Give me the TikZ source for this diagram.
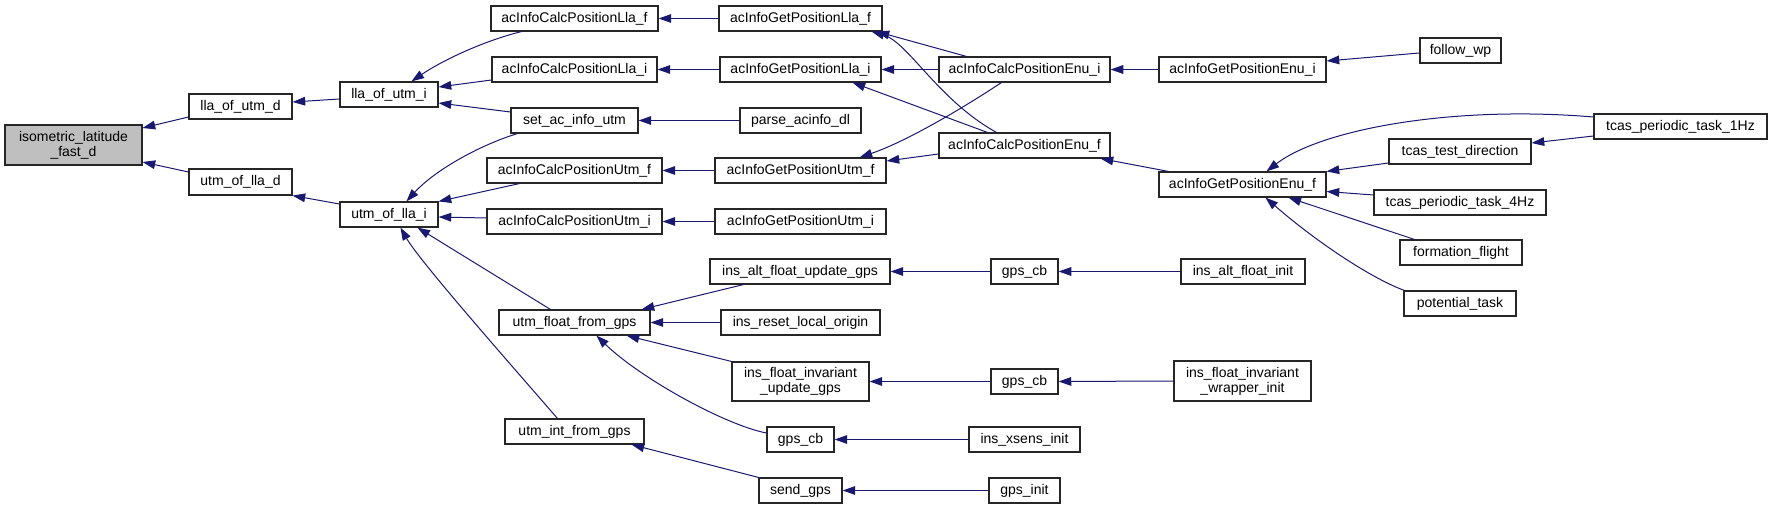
\documentclass[tikz,border=0pt]{standalone}
\usepackage{fontspec}
\setmainfont{Liberation Sans}
\usetikzlibrary{arrows.meta,calc}
\definecolor{edgeblue}{HTML}{191970}
\definecolor{rootgray}{HTML}{BFBFBF}
\tikzset{
  box/.style={draw=black!85,line width=0.85pt,fill=white,inner sep=0pt,align=center,
    font=\fontsize{10.5}{11.3}\selectfont},
  rootbox/.style={box,fill=rootgray},
  e/.style={draw=edgeblue,line width=0.75pt,-{Triangle[length=9.5pt,width=6.5pt]}}
}
\newcommand\nb[7][]{\node[box,#1,minimum width={(#5-#3)*0.75pt},minimum height={(#6-#4)*0.75pt}] (#2) at ({(#3+#5)/2},{(#4+#6)/2}) {#7};}
\begin{document}
\begin{tikzpicture}[x=0.75pt,y=-0.75pt]
\useasboundingbox (0,0) rectangle (1772,509);
% nodes
\nb[rootbox]{iso}{5}{125}{142}{165}{isometric\_latitude\\\_fast\_d}
\nb{llad}{189}{94}{292}{119}{lla\_of\_utm\_d}
\nb{utmd}{189}{169}{292}{195}{utm\_of\_lla\_d}
\nb{llai}{340}{82}{438}{107}{lla\_of\_utm\_i}
\nb{utmi}{340}{202}{438}{227}{utm\_of\_lla\_i}
\nb{cllaf}{491}{6}{658}{31}{acInfoCalcPositionLla\_f}
\nb{cllai}{492}{57}{657}{82}{acInfoCalcPositionLla\_i}
\nb{setac}{511}{108}{638}{133}{set\_ac\_info\_utm}
\nb{cutmf}{487}{158}{662}{183}{acInfoCalcPositionUtm\_f}
\nb{cutmi}{487}{209}{662}{234}{acInfoCalcPositionUtm\_i}
\nb{ufloat}{499}{310}{650}{335}{utm\_float\_from\_gps}
\nb{uint}{505}{419}{644}{444}{utm\_int\_from\_gps}
\nb{gllaf}{719}{6}{882}{31}{acInfoGetPositionLla\_f}
\nb{gllai}{720}{57}{881}{82}{acInfoGetPositionLla\_i}
\nb{parse}{740}{108}{861}{133}{parse\_acinfo\_dl}
\nb{gutmf}{715}{158}{886}{183}{acInfoGetPositionUtm\_f}
\nb{gutmi}{715}{209}{886}{234}{acInfoGetPositionUtm\_i}
\nb{ialtupd}{710}{259}{890}{284}{ins\_alt\_float\_update\_gps}
\nb{ireset}{721}{310}{880}{335}{ins\_reset\_local\_origin}
\nb{ifinvupd}{732}{362}{869}{401}{ins\_float\_invariant\\\_update\_gps}
\nb{gpscbC}{767}{427}{834}{452}{gps\_cb}
\nb{sendgps}{759}{478}{842}{503}{send\_gps}
\nb{cenui}{939}{57}{1110}{82}{acInfoCalcPositionEnu\_i}
\nb{cenuf}{939}{133}{1110}{158}{acInfoCalcPositionEnu\_f}
\nb{gpscbA}{991}{259}{1058}{284}{gps\_cb}
\nb{gpscbB}{991}{369}{1058}{394}{gps\_cb}
\nb{ixsens}{969}{427}{1080}{452}{ins\_xsens\_init}
\nb{gpsinit}{989}{478}{1060}{503}{gps\_init}
\nb{genui}{1159}{57}{1326}{82}{acInfoGetPositionEnu\_i}
\nb{genuf}{1159}{172}{1326}{197}{acInfoGetPositionEnu\_f}
\nb{ialtinit}{1181}{259}{1305}{284}{ins\_alt\_float\_init}
\nb{ifwrap}{1174}{361}{1311}{401}{ins\_float\_invariant\\\_wrapper\_init}
\nb{followwp}{1420}{38}{1501}{63}{follow\_wp}
\nb{tcastest}{1389}{139}{1531}{164}{tcas\_test\_direction}
\nb{tcasfour}{1374}{190}{1546}{215}{tcas\_periodic\_task\_4Hz}
\nb{formation}{1400}{240}{1522}{265}{formation\_flight}
\nb{potential}{1404}{291}{1516}{316}{potential\_task}
\nb{tcasone}{1594}{114}{1767}{139}{tcas\_periodic\_task\_1Hz}
% edges
\draw[e] ($(llad.west)+(0,10.5)$) -- ($(iso.east)+(0,-17)$);
\draw[e] ($(utmd.west)+(0,-10)$) -- ($(iso.east)+(0,17)$);
\draw[e] ($(llai.west)+(0,4.5)$) -- ($(llad.east)+(0,-4.5)$);
\draw[e] ($(utmi.west)+(0,-10.5)$) -- (utmd.south east);
\draw[e] ($(cllaf.south west)+(31,0)$) .. controls (480,42) and (440,62) .. ($(llai.north west)+(72,0)$);
\draw[e] ($(cllai.west)+(0,10.5)$) -- ($(llai.east)+(0,-7.5)$);
\draw[e] ($(setac.west)+(0,-8.5)$) -- ($(llai.east)+(0,8.5)$);
\draw[e] ($(setac.south west)+(7,0)$) .. controls (480,145) and (435,170) .. ($(utmi.north west)+(67,0)$);
\draw[e] ($(cutmf.south west)+(33,0)$) -- (utmi.north east);
\draw[e] ($(cutmi.west)+(0,-3.5)$) -- ($(utmi.east)+(0,2.5)$);
\draw[e] ($(ufloat.north west)+(52,0)$) -- ($(utmi.south west)+(78,0)$);
\draw[e] ($(uint.north west)+(53,0)$) .. controls (520,375) and (420,262) .. ($(utmi.south west)+(61,0)$);
\draw[e] (gllaf.west) -- (cllaf.east);
\draw[e] (gllai.west) -- (cllai.east);
\draw[e] (parse.west) -- (setac.east);
\draw[e] (gutmf.west) -- (cutmf.east);
\draw[e] (gutmi.west) -- (cutmi.east);
\draw[e] ($(cenui.north west)+(28,0)$) -- ($(gllaf.south east)+(-6,0)$);
\draw[e] ($(cenuf.north west)+(58,0)$) .. controls (938,100) and (908,42) .. ($(gllaf.south east)+(-11,0)$);
\draw[e] (cenui.west) -- (gllai.east);
\draw[e] ($(cenuf.north west)+(49,0)$) -- ($(gllai.south east)+(-29,0)$);
\draw[e] ($(cenui.south west)+(63,0)$) .. controls (960,110) and (905,142) .. ($(gutmf.north east)+(-27,0)$);
\draw[e] ($(cenuf.west)+(0,8.5)$) -- ($(gutmf.east)+(0,-9.5)$);
\draw[e] (genui.west) -- (cenui.east);
\draw[e] ($(followwp.west)+(0,2.5)$) -- ($(genui.east)+(0,-8.5)$);
\draw[e] ($(genuf.north west)+(10,0)$) -- ($(cenuf.south east)+(-10,0)$);
\draw[e] ($(tcasone.west)+(0,-9.5)$) .. controls (1450,105) and (1320,130) .. ($(genuf.north west)+(108,0)$);
\draw[e] ($(tcastest.west)+(0,11.5)$) -- (genuf.north east);
\draw[e] ($(tcasone.west)+(0,9.5)$) -- ($(tcastest.east)+(0,-8.5)$);
\draw[e] ($(tcasfour.west)+(0,-7.5)$) -- ($(genuf.east)+(0,7)$);
\draw[e] ($(formation.north west)+(15,0)$) -- ($(genuf.south west)+(130,0)$);
\draw[e] ($(potential.north west)+(1,0)$) .. controls (1375,280) and (1320,245) .. ($(genuf.south west)+(107,0)$);
\draw[e] ($(ialtupd.south west)+(34,0)$) -- ($(ufloat.north east)+(-9,0)$);
\draw[e] (ireset.west) -- (ufloat.east);
\draw[e] (ifinvupd.north west) -- ($(ufloat.south east)+(-24,0)$);
\draw[e] ($(gpscbC.west)+(0,-6.5)$) .. controls (725,425) and (640,378) .. ($(ufloat.south west)+(98,0)$);
\draw[e] (sendgps.north west) -- ($(uint.south east)+(-13,0)$);
\draw[e] (gpscbA.west) -- (ialtupd.east);
\draw[e] (ialtinit.west) -- (gpscbA.east);
\draw[e] (gpscbB.west) -- (ifinvupd.east);
\draw[e] (ifwrap.west) -- (gpscbB.east);
\draw[e] (ixsens.west) -- (gpscbC.east);
\draw[e] (gpsinit.west) -- (sendgps.east);
\end{tikzpicture}
\end{document}
